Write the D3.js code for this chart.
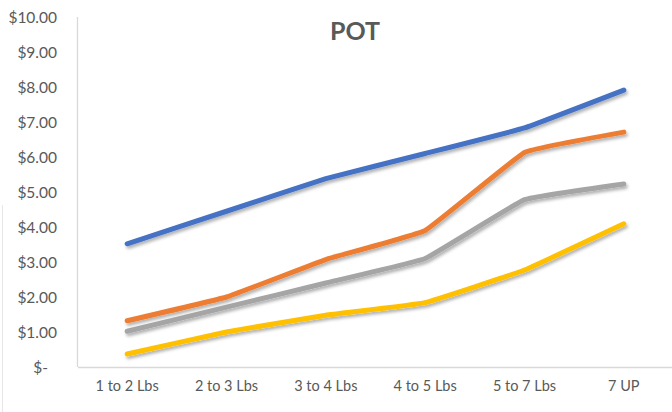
<!DOCTYPE html>
<html>
<head>
<meta charset="utf-8">
<script src="https://cdn.jsdelivr.net/npm/d3@7"></script>
<style>
  html, body { margin: 0; padding: 0; background: #fff; }
  svg { display: block; }
  text { font-family: Lato, "Open Sans", sans-serif; }
</style>
</head>
<body>
<svg id="chart" width="672" height="412"></svg>
<script>
const categories = ["1 to 2 Lbs", "2 to 3 Lbs", "3 to 4 Lbs", "4 to 5 Lbs", "5 to 7 Lbs", "7 UP"];
const seriesBlue   = [3.52, 4.45, 5.38, 6.10, 6.83, 7.91];
const seriesOrange = [1.32, 2.00, 3.07, 3.90, 6.13, 6.71];
const seriesGray   = [1.02, 1.71, 2.40, 3.10, 4.78, 5.23];
const seriesYellow = [0.37, 1.00, 1.48, 1.84, 2.77, 4.09];
const yTicks = [0, 1, 2, 3, 4, 5, 6, 7, 8, 9, 10];
const title = "POT";

const series = [
  { values: seriesBlue,   color: "#4472C4" },
  { values: seriesOrange, color: "#ED7D31" },
  { values: seriesGray,   color: "#A5A5A5" },
  { values: seriesYellow, color: "#FFC000" }
];

const svg = d3.select("#chart");
const plot = { left: 77.5, right: 673.5, top: 17, bottom: 367 };

const x = d3.scaleBand().domain(categories).range([plot.left, plot.right]);
const y = d3.scaleLinear().domain([0, 10]).range([plot.bottom, plot.top]);

// faint left border
svg.append("line").attr("x1", 2.5).attr("x2", 2.5).attr("y1", 205).attr("y2", 412)
  .attr("stroke", "#e6e6e6").attr("stroke-width", 1);

// drop shadow filter
const defs = svg.append("defs");
const f = defs.append("filter").attr("id", "shadow")
  .attr("x", "-10%").attr("y", "-10%").attr("width", "120%").attr("height", "130%");
f.append("feDropShadow").attr("dx", 1.5).attr("dy", 2.5).attr("stdDeviation", 1.5)
  .attr("flood-color", "#000").attr("flood-opacity", 0.3);

// Y axis
const yAxis = d3.axisLeft(y).tickValues(yTicks).tickSize(0).tickPadding(0)
  .tickFormat(d => d === 0 ? "$-" : "$" + d3.format(".2f")(d));
const gy = svg.append("g").attr("transform", `translate(57,0)`).call(yAxis);
gy.select(".domain").remove();
gy.selectAll("text").attr("fill", "#595959").style("font-size", "15.5px")
  .attr("dy", "0.35em")
  .attr("dx", d => d === 0 ? -9 : 0);

// vertical axis line
svg.append("line").attr("x1", plot.left).attr("x2", plot.left)
  .attr("y1", plot.top).attr("y2", plot.bottom)
  .attr("stroke", "#d9d9d9").attr("stroke-width", 1.3);

// X axis
const xAxis = d3.axisBottom(x).tickSize(0).tickPadding(0);
const gx = svg.append("g").attr("transform", `translate(0,${plot.bottom})`).call(xAxis);
gx.select(".domain").attr("stroke", "#d9d9d9").attr("stroke-width", 1.3);
gx.selectAll("text").attr("fill", "#595959").style("font-size", "14.5px")
  .attr("y", 14).attr("dy", "0.71em");

// Lines
const line = d3.line()
  .x((d, i) => x(categories[i]) + x.bandwidth() / 2)
  .y(d => y(d))
  .curve(d3.curveCardinal.tension(0.75));

svg.append("g").selectAll("path").data(series).join("path")
  .attr("d", d => line(d.values))
  .attr("fill", "none")
  .attr("stroke", d => d.color)
  .attr("stroke-width", 5)
  .attr("stroke-linecap", "round")
  .attr("stroke-linejoin", "round")
  .attr("filter", "url(#shadow)");

// Title
svg.append("text").attr("x", 355).attr("y", 40).attr("text-anchor", "middle")
  .attr("fill", "#595959").style("font-size", "25px").style("font-weight", "bold")
  .text(title);
</script>
</body>
</html>
